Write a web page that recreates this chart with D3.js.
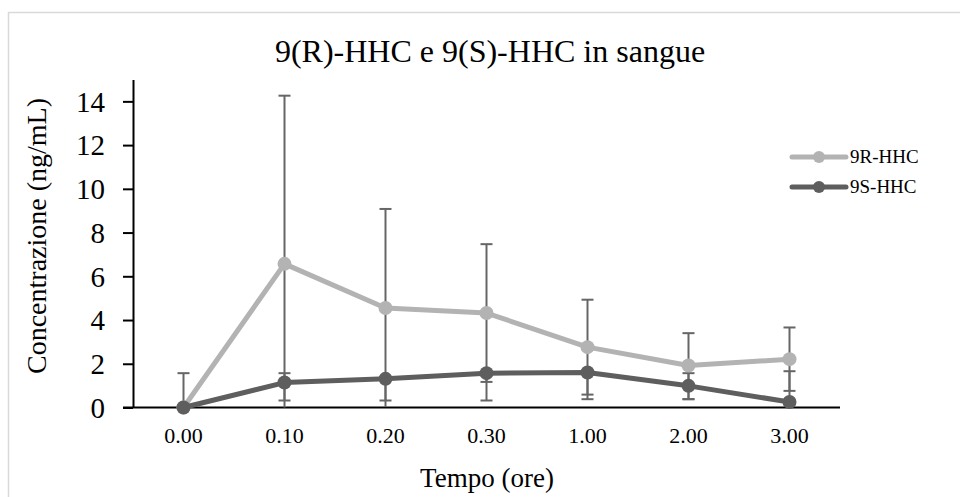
<!DOCTYPE html>
<html>
<head>
<meta charset="utf-8">
<script src="https://cdn.jsdelivr.net/npm/d3@7"></script>
<style>
  body { margin: 0; background: #fff; }
  svg text { font-family: "Liberation Serif", "DejaVu Serif", serif !important; fill: #000; }
</style>
</head>
<body>
<div class="chart"></div>
<script>
// Categories (time, hours)
const times = ['0.00', '0.10', '0.20', '0.30', '1.00', '2.00', '3.00']

// Mean concentrations (ng/mL)
const r9Values = [0, 6.57, 4.55, 4.32, 2.76, 1.92, 2.21]
const s9Values = [0, 1.14, 1.31, 1.57, 1.60, 0.99, 0.25]

// Error bar lengths, up and down
const r9ErrUp = [1.57, 7.69, 4.53, 3.15, 2.17, 1.48, 1.45]
const r9ErrDown = [0, 7.69, 4.53, 3.15, 2.17, 1.54, 1.45]
const s9ErrUp = [0, 0.43, 0, 0, 0, 0.58, 1.41]
const s9ErrDown = [0, 0.82, 0.99, 1.25, 1.22, 0.61, 0.25]

const yTicks = [0, 2, 4, 6, 8, 10, 12, 14]

const series = [
  { name: '9R-HHC', values: r9Values, up: r9ErrUp, down: r9ErrDown, color: '#b3b3b3' },
  { name: '9S-HHC', values: s9Values, up: s9ErrUp, down: s9ErrDown, color: '#5e5e5e' }
]

const width = 960
const height = 497

const svg = d3.select('.chart')
  .append('svg')
  .attr('width', width)
  .attr('height', height)
  .style('font-family', '"Liberation Serif", serif')

// chart frame
svg.append('path')
  .attr('d', `M8.5,${height} V12.5 H${width}`)
  .attr('fill', 'none')
  .attr('stroke', '#d9d9d9')
  .attr('stroke-width', 1.5)

const x = d3.scaleBand()
  .domain(times)
  .range([133, 840])

const y = d3.scaleLinear()
  .domain([0, 15])
  .range([407.5, 79.5])

// title
svg.append('text')
  .attr('x', 490)
  .attr('y', 62)
  .attr('text-anchor', 'middle')
  .style('font-size', '32px')
  .text('9(R)-HHC e 9(S)-HHC in sangue')

// y axis
const yAxis = svg.append('g')
  .attr('transform', 'translate(133, 0)')
  .call(d3.axisLeft(y).tickValues(yTicks).tickSize(10).tickPadding(18).tickSizeOuter(0))
yAxis.attr('font-family', null)
yAxis.select('.domain').attr('stroke', '#000').attr('stroke-width', 2)
yAxis.selectAll('.tick line').attr('stroke', '#000').attr('stroke-width', 2)
yAxis.selectAll('.tick text')
  .style('font-size', '29px')
  .attr('dy', '0.34em')

// x axis
const xAxis = svg.append('g')
  .attr('transform', `translate(0, ${y(0)})`)
  .call(d3.axisBottom(x).tickSize(0).tickPadding(20).tickSizeOuter(0))
xAxis.attr('font-family', null)
xAxis.select('.domain')
  .attr('d', `M123,0H840`)
  .attr('stroke', '#000')
  .attr('stroke-width', 2)
xAxis.selectAll('.tick text')
  .style('font-size', '22px')

// axis titles
svg.append('text')
  .attr('transform', 'translate(46, 236) rotate(-90)')
  .attr('text-anchor', 'middle')
  .style('font-size', '28px')
  .text('Concentrazione (ng/mL)')

svg.append('text')
  .attr('x', 487)
  .attr('y', 487)
  .attr('text-anchor', 'middle')
  .style('font-size', '27px')
  .text('Tempo (ore)')

const cx = (i) => x(times[i]) + x.bandwidth() / 2

// error bars
series.forEach((s) => {
  const g = svg.append('g').attr('stroke', '#666').attr('stroke-width', 2)
  s.values.forEach((v, i) => {
    const top = v + s.up[i]
    const bottom = Math.max(0, v - s.down[i])
    g.append('line')
      .attr('x1', cx(i)).attr('x2', cx(i))
      .attr('y1', y(top)).attr('y2', y(bottom))
    if (s.up[i] > 0) {
      g.append('line')
        .attr('x1', cx(i) - 6).attr('x2', cx(i) + 6)
        .attr('y1', y(top)).attr('y2', y(top))
    }
    if (s.down[i] > 0 && v - s.down[i] > 0.05) {
      g.append('line')
        .attr('x1', cx(i) - 6).attr('x2', cx(i) + 6)
        .attr('y1', y(bottom)).attr('y2', y(bottom))
    }
  })
})

// lines and markers
const line = d3.line()
  .x((d, i) => cx(i))
  .y((d) => y(d))

series.forEach((s) => {
  svg.append('path')
    .datum(s.values)
    .attr('fill', 'none')
    .attr('stroke', s.color)
    .attr('stroke-width', 5)
    .attr('stroke-linejoin', 'round')
    .attr('d', line)

  svg.append('g')
    .selectAll('circle')
    .data(s.values)
    .join('circle')
    .attr('cx', (d, i) => cx(i))
    .attr('cy', (d) => y(d))
    .attr('r', 7)
    .attr('fill', s.color)
})

// legend
const legend = svg.append('g')
  .selectAll('g')
  .data(series)
  .join('g')
  .attr('transform', (d, i) => `translate(792, ${157 + i * 30})`)

legend.append('line')
  .attr('x1', 0).attr('x2', 54)
  .attr('stroke', (d) => d.color)
  .attr('stroke-width', 5)
  .attr('stroke-linecap', 'round')

legend.append('circle')
  .attr('cx', 27)
  .attr('r', 6)
  .attr('fill', (d) => d.color)

legend.append('text')
  .attr('x', 58)
  .attr('dy', '0.34em')
  .style('font-size', '19px')
  .text((d) => d.name)
</script>
</body>
</html>
